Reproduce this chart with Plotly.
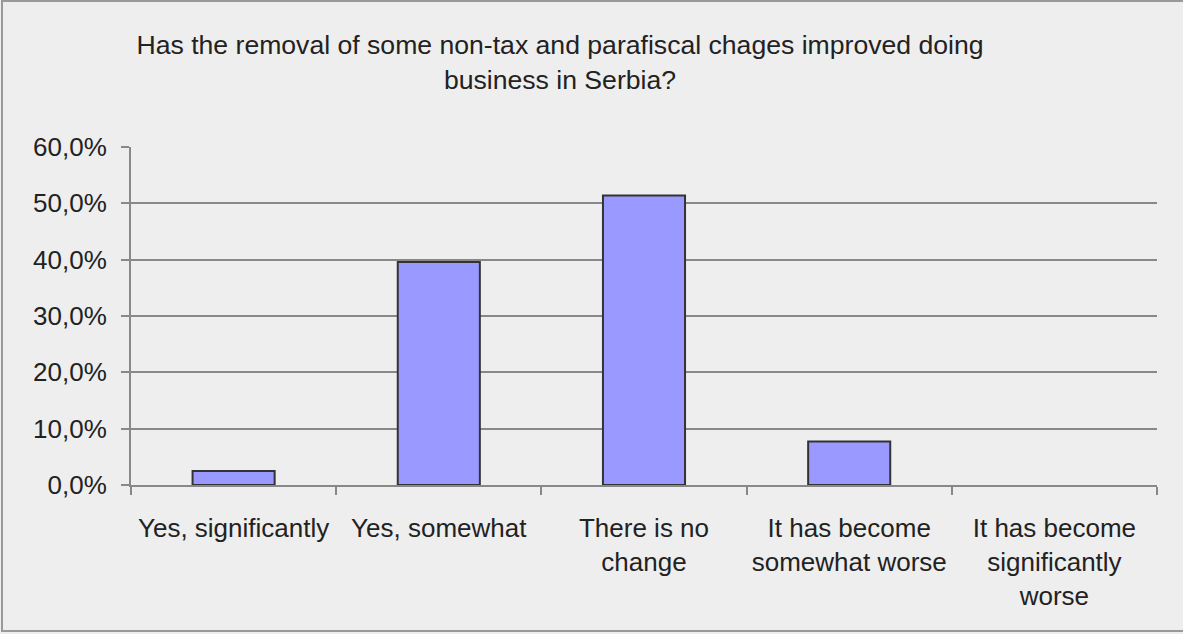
import plotly.graph_objects as go

categories = ["Yes, significantly", "Yes, somewhat", "There is no<br>change",
              "It has become<br>somewhat worse", "It has become<br>significantly<br>worse"]
values = [0.025, 0.396, 0.514, 0.077, 0.0]
y_tickvals = [0, 0.1, 0.2, 0.3, 0.4, 0.5, 0.6]
y_ticktext = ["0,0%", "10,0%", "20,0%", "30,0%", "40,0%", "50,0%", "60,0%"]
title_text = "Has the removal of some non-tax and parafiscal chages improved doing<br>business in Serbia?"

W, H = 1183, 634
L, R, T, B = 131, 26, 147, 149
pw, ph = W - L - R, H - T - B

font = "Liberation Sans, Arial, sans-serif"
fig = go.Figure(go.Bar(
    x=categories, y=values, width=0.4,
    marker=dict(color="#9999ff",
                line=dict(color="#333333", width=[2 if v > 0 else 0 for v in values])),
))

fig.update_layout(
    width=W, height=H,
    margin=dict(l=L, r=R, t=T, b=B),
    paper_bgcolor="#eeeeee", plot_bgcolor="#eeeeee",
    font=dict(family=font, size=26, color="#222222"),
    showlegend=False,
    title=dict(text=title_text, x=560 / W, xref="container", xanchor="center",
               y=1 - 54 / H, yref="container", yanchor="top",
               font=dict(family=font, size=26.6, color="#222222")),
    bargap=0.6,
)
fig.update_xaxes(
    showline=True, linecolor="#888888", linewidth=2,
    ticks="outside", ticklen=8, tickwidth=2, tickcolor="#888888",
    tickson="boundaries", showgrid=False, tickangle=0,
    tickfont=dict(size=26, family=font, color="#222222"),
    ticklabelstandoff=19,
)
fig.update_yaxes(
    range=[0, 0.6], tickvals=y_tickvals, ticktext=y_ticktext,
    showline=True, linecolor="#888888", linewidth=2,
    ticks="outside", ticklen=8, tickwidth=2, tickcolor="#888888",
    showgrid=True, gridcolor="#888888", gridwidth=2, zeroline=False,
    tickfont=dict(size=26, family=font, color="#222222"),
    ticklabelstandoff=9,
)
# outer chart border
fig.add_shape(type="rect", xref="paper", yref="paper",
              x0=(2 - L) / pw, x1=(W + 5 - L) / pw,
              y0=(H - B - 631) / ph, y1=(H - B - 1) / ph,
              line=dict(color="#999999", width=2), fillcolor="rgba(0,0,0,0)", layer="below")

fig.write_html("out.html", config={"displayModeBar": False},
               post_script="document.body.style.margin='0';")
